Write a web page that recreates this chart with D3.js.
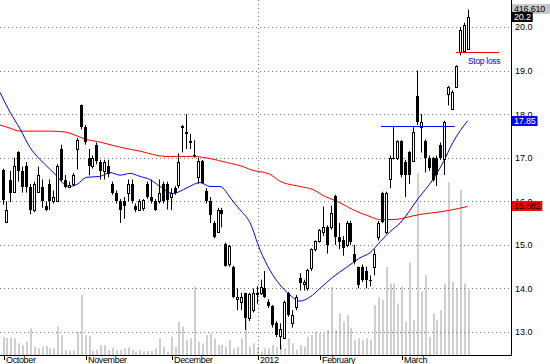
<!DOCTYPE html>
<html><head><meta charset="utf-8">
<script src="https://cdn.jsdelivr.net/npm/d3@7"></script>
<style>body{margin:0;background:#fff}svg{display:block}text{font-family:"Liberation Sans",Arial,sans-serif}</style>
</head><body><svg id="c" width="550" height="364"></svg>
<script>
// ---- data ----
const open  = [16.71,15.52,16.5,16.21,17.12,16.7,16.8,16.32,15.81,16.22,16.32,15.9,16.4,16.0,16.0,17.21,16.5,16.32,16.4,17.21,
               18.2,17.7,17.0,16.8,17.3,16.9,16.69,16.8,16.4,16.2,16.0,16.0,16.2,16.4,15.9,15.81,15.85,16.4,16.1,16.0,
               16.0,16.4,16.4,16.1,16.3,16.37,17.72,17.6,17.38,17.07,16.55,16.92,16.23,16.0,15.5,15.3,15.8,15.02,14.55,14.5,
               13.75,13.7,13.9,13.31,13.5,13.9,13.9,14.0,13.7,13.6,13.2,12.9,12.87,13.9,13.2,13.57,14.24,14.1,14.0,14.47,
               14.9,15.1,15.3,15.42,15.42,16.12,15.19,15.11,15.0,15.5,14.8,14.49,14.49,14.4,14.2,14.49,15.18,16.2,15.3,16.52,
               17.0,17.0,17.38,16.9,17.12,16.92,18.42,17.7,17.38,17.0,17.0,17.0,17.3,16.96,18.46,18.12,18.62,19.43,19.46,19.5];
const high  = [16.75,16.0,16.7,17.0,17.15,16.8,16.9,16.4,16.45,16.8,16.5,16.0,16.5,16.25,16.85,17.3,16.6,16.45,16.65,17.45,
               18.22,17.75,17.2,17.05,17.35,16.95,16.95,16.95,16.45,16.25,16.05,16.1,16.5,16.5,15.95,16.05,16.05,16.45,16.5,16.05,
               16.5,16.45,16.45,16.3,16.35,17.1,17.75,18.0,17.55,17.4,17.0,16.95,16.3,16.1,15.55,15.85,15.85,15.05,15.0,14.52,
               14.0,13.9,13.9,13.9,14.0,14.05,14.2,14.4,13.75,13.62,13.25,13.2,13.72,13.92,13.5,13.85,14.35,14.2,14.45,14.92,
               15.1,15.36,15.88,15.45,15.9,16.15,15.5,15.2,15.55,15.55,15.0,14.5,14.55,14.5,14.3,14.9,15.55,16.22,16.22,17.05,
               17.7,17.4,17.4,16.95,17.15,17.7,19.0,18.0,17.42,17.05,17.02,17.05,17.35,17.85,18.65,18.55,19.12,20.0,20.1,20.4];
const low   = [15.92,15.5,15.98,16.2,16.45,16.2,16.2,15.7,15.75,16.2,15.85,15.78,15.8,15.95,16.0,16.45,16.3,16.3,16.35,16.73,
               17.65,17.3,16.6,16.75,16.85,16.5,16.5,16.55,16.15,15.95,15.5,15.6,16.0,15.95,15.75,15.78,15.78,16.05,15.95,15.78,
               15.95,15.95,15.81,15.8,16.15,16.3,17.12,17.2,17.2,17.0,16.4,16.4,15.95,15.5,15.15,15.28,15.4,14.5,14.5,13.78,
               13.5,13.5,13.05,13.25,13.45,13.65,13.85,13.78,13.55,13.1,12.88,12.6,12.85,13.35,13.1,13.5,13.95,13.95,13.95,14.4,
               14.85,15.05,15.2,14.8,15.35,15.0,14.9,14.75,14.95,15.0,14.55,14.0,14.15,14.0,14.05,14.3,15.1,15.5,15.25,16.3,
               16.96,16.95,16.55,16.1,16.4,16.9,17.75,17.12,16.66,16.7,16.45,16.35,16.95,16.6,18.2,18.1,18.6,19.35,19.4,19.48];
const close = [16.02,15.81,16.2,16.81,16.69,16.32,16.32,15.81,16.4,16.61,16.0,15.81,16.0,16.1,16.8,16.5,16.32,16.38,16.6,17.4,
               17.7,17.35,16.8,17.0,16.92,16.69,16.9,16.62,16.2,16.0,15.81,15.9,16.4,16.0,15.81,16.0,16.02,16.1,16.0,15.81,
               16.2,16.0,16.04,16.2,16.2,16.9,17.68,17.55,17.33,17.03,16.92,16.43,16.0,15.69,15.18,15.81,15.7,14.51,14.97,13.8,
               13.8,13.8,13.33,13.87,13.9,13.85,14.03,13.8,13.6,13.15,12.93,13.08,13.69,13.38,13.4,13.8,14.12,14.15,14.43,14.9,
               15.08,15.34,15.41,15.0,15.72,15.19,15.07,14.93,15.5,15.07,14.6,14.07,14.19,14.19,14.18,14.8,15.5,15.53,16.2,17.0,
               16.98,17.38,16.6,16.6,16.61,17.6,17.81,17.82,17.0,16.77,16.5,16.6,17.0,17.82,18.62,18.5,19.1,19.92,20.05,20.22];
// volume, thousands of shares
const volume = [117,110,113,107,75,64,85,171,53,43,53,58,43,43,182,128,32,28,28,150,
                385,128,122,26,32,64,64,32,47,32,32,43,49,32,21,32,21,26,26,43,
                107,53,21,117,53,214,182,96,107,438,85,75,128,139,107,64,64,53,96,43,
                53,107,235,53,75,53,21,43,43,64,53,64,43,107,75,32,64,53,117,128,
                150,139,139,160,438,160,267,214,256,171,96,107,96,107,96,321,370,353,566,459,
                459,331,438,214,592,224,1167,406,513,117,267,224,288,459,1109,470,427,1058,459,416.61];
const priceTicks = [13,14,15,16,17,18,19,20];
const monthLabels = ["October","November","December","2012","February","March"];
const monthIdx = [0,21,43,65,81,102];
// short moving average (blue), sampled along the drawn line: position (bar index), value
const bluePos = [-0.64,1.9,4.5,7.0,9.6,12.2,14.2,15.5,17.3,19.1,21.5,24.9,27.5,30.1,32.6,35.2,37.7,40.3,43.6,47.2,
                 50.5,53.1,55.6,58.7,60.7,63.3,65.9,68.4,71.0,73.5,76.1,78.6,81.2,84.5,88.1,91.4,94.0,96.6,99.1,101.7,
                 106.3,110.1,112.7,115.2,119];
const blueVal = [18.5,18.05,17.66,17.24,16.96,16.73,16.55,16.41,16.34,16.39,16.55,16.57,16.66,16.6,16.64,16.57,16.5,16.34,16.18,16.31,
                 16.43,16.34,16.34,16.03,15.81,15.51,14.88,14.42,14.08,13.85,13.71,13.8,14.0,14.26,14.49,14.7,14.82,15.07,15.3,15.5,
                 16.06,16.5,16.89,17.35,17.85];
// long moving average (red)
const redPos = [-0.64,1.9,4.5,12.2,16.0,19.1,21.1,24.9,30.1,35.2,41.6,48.7,53.1,57.4,62.0,63.3,68.4,71.0,76.1,79.4,
                82.5,85.6,89.6,94.0,96.6,99.9,102.9,105.2,114.2,119];
const redVal = [17.75,17.68,17.61,17.61,17.59,17.5,17.43,17.36,17.24,17.15,17.03,17.03,16.98,16.89,16.78,16.73,16.62,16.46,16.34,16.27,
                16.11,16.0,15.81,15.65,15.58,15.58,15.62,15.67,15.79,15.882];
const resistanceLevel = 17.72, resistanceFrom = 96.8, resistanceTo = 115.7;
const stopLevel = 19.43, stopFrom = 116, stopTo = 127;

// ---- chart ----
const svg = d3.select("#c");
const plotR = 511, axisY = 355;
const x = d3.scaleLinear().domain([0,119]).range([2.5,467.7]);
const y = d3.scaleLinear().domain([13,20]).range([332,27]);
const yv = d3.scaleLinear().domain([0,1200]).range([axisY,168]);
const px = i => Math.round(x(i));

// volume
svg.append("g").selectAll("rect").data(volume).join("rect")
  .attr("x",(d,i)=>px(i)).attr("width",2)
  .attr("y",d=>yv(d)).attr("height",d=>axisY-yv(d))
  .attr("fill","#cfcfcf");

// grid
svg.append("g").selectAll("line").data(priceTicks).join("line")
  .attr("x1",0).attr("x2",plotR)
  .attr("y1",d=>Math.round(y(d))+0.5).attr("y2",d=>Math.round(y(d))+0.5)
  .attr("stroke","#7a7a7a").attr("stroke-dasharray","1,3");
const gx = Math.round(x(monthIdx[3]))+1.5;
svg.append("line").attr("x1",gx).attr("x2",gx).attr("y1",0).attr("y2",axisY)
  .attr("stroke","#7a7a7a").attr("stroke-dasharray","1,3");

// moving averages
const line = d3.line().x(d=>x(d[0])).y(d=>y(d[1])).curve(d3.curveMonotoneX);
svg.append("path").attr("d",line(redPos.map((p,i)=>[p,redVal[i]])))
  .attr("fill","none").attr("stroke","#ff0000").attr("stroke-width",1);
svg.append("path").attr("d",line(bluePos.map((p,i)=>[p,blueVal[i]])))
  .attr("fill","none").attr("stroke","#0000ff").attr("stroke-width",1);

// candles
const cg = svg.append("g");
open.forEach((o,i)=>{
  const c = close[i], cx = px(i);
  cg.append("line").attr("x1",cx+0.5).attr("x2",cx+0.5)
    .attr("y1",y(high[i])).attr("y2",y(low[i])).attr("stroke","#000");
  if (c >= o) {
    const t = Math.round(y(c)), b = Math.round(y(o));
    cg.append("rect").attr("x",cx-0.5).attr("width",2)
      .attr("y",t+0.5).attr("height",Math.max(1,b-t))
      .attr("fill","#fff").attr("stroke","#000");
  } else {
    const t = Math.round(y(o)), b = Math.round(y(c));
    cg.append("rect").attr("x",cx-1).attr("width",3)
      .attr("y",t).attr("height",Math.max(1,b-t)).attr("fill","#000");
  }
});

// resistance and stop loss
svg.append("line").attr("x1",x(resistanceFrom)).attr("x2",x(resistanceTo))
  .attr("y1",Math.round(y(resistanceLevel))+0.5).attr("y2",Math.round(y(resistanceLevel))+0.5)
  .attr("stroke","#0000ff");
svg.append("line").attr("x1",x(stopFrom)).attr("x2",x(stopTo))
  .attr("y1",Math.round(y(stopLevel))+0.5).attr("y2",Math.round(y(stopLevel))+0.5)
  .attr("stroke","#ff0000");
svg.append("text").attr("x",x(stopFrom)+12).attr("y",Math.round(y(stopLevel))+11.5)
  .attr("fill","#0000ff").attr("font-size",8.5).attr("letter-spacing",-0.3).text("Stop loss");

// axes frame
svg.append("line").attr("x1",plotR+0.5).attr("x2",plotR+0.5).attr("y1",0).attr("y2",axisY+1).attr("stroke","#000");
svg.append("line").attr("x1",0).attr("x2",plotR+1).attr("y1",axisY+0.5).attr("y2",axisY+0.5).attr("stroke","#000");

// right axis labels
const ra = svg.append("g").attr("transform",`translate(${plotR+1},0)`)
  .call(d3.axisRight(y).tickValues(priceTicks).tickFormat(d3.format(".1f")).tickSize(0).tickPadding(3));
ra.select(".domain").remove();
ra.selectAll("text").attr("font-family","'Liberation Sans',Arial,sans-serif").attr("font-size",9).attr("fill","#000");

// month ticks
const mg = svg.append("g").selectAll("g").data(monthIdx).join("g")
  .attr("transform",i=>`translate(${px(i)+1.5},0)`);
mg.append("line").attr("y1",axisY).attr("y2",axisY+5).attr("stroke","#000");
mg.append("text").attr("x",1.5).attr("y",363).attr("font-size",9).attr("letter-spacing",-0.35).attr("fill","#000")
  .text((d,i)=>monthLabels[i]);

// value flags on the right
function flag(cy, txt, bg, fg, full){
  const g = svg.append("g");
  const t = g.append("text").attr("x",plotR+3).attr("y",cy+3.3).attr("font-size",9)
    .attr("letter-spacing",-0.2).attr("fill",fg).text(txt);
  const w = full ? 550-plotR-1 : t.node().getComputedTextLength()+4;
  g.insert("rect","text").attr("x",plotR+1).attr("y",cy-5).attr("width",w).attr("height",10).attr("fill",bg);
}
flag(9, d3.format(",")(Math.round(volume[volume.length-1]*1000)), "#c8c8c8", "#000", true);
flag(Math.round(y(close[close.length-1])), d3.format(".1f")(close[close.length-1]), "#000", "#fff");
flag(Math.round(y(blueVal[blueVal.length-1])), d3.format(".2f")(blueVal[blueVal.length-1]), "#0000ff", "#fff");
flag(Math.round(y(redVal[redVal.length-1])), d3.format(".3f")(redVal[redVal.length-1]), "#ff0000", "#000");
</script></body></html>
